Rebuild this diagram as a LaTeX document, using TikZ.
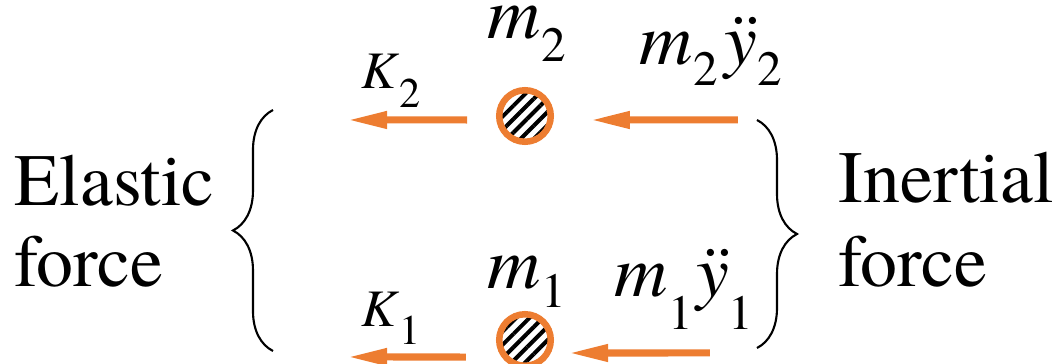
\documentclass[tikz,border=0pt]{standalone}
\usepackage{fontspec}
\IfFontExistsTF{texgyretermes-regular.otf}
 {\setmainfont{texgyretermes}[Extension=.otf,UprightFont=*-regular,
   ItalicFont=*-italic,BoldFont=*-bold,BoldItalicFont=*-bolditalic]}
 {\setmainfont{Liberation Serif}}
\usepackage{xcolor}
\usetikzlibrary{arrows.meta,positioning,decorations.pathreplacing,patterns.meta}
\definecolor{fcorange}{HTML}{ED7D31}
\newcommand{\lsub}[2][0.22cm]{\raisebox{-#1}{\fontsize{14}{14}\selectfont #2}}
\newcommand{\ksub}[2][0.17cm]{\raisebox{-#1}{\fontsize{12}{12}\selectfont #2}}

\begin{document}
\begin{tikzpicture}[x=0.01cm,y=-0.01cm,
 lbl/.style={inner sep=0,font=\fontsize{21}{23}\selectfont},
 mlbl/.style={inner sep=0,anchor=base west,text height=0.3cm,font=\fontsize{21}{21}\selectfont},
 klbl/.style={inner sep=0,anchor=base west,font=\fontsize{15}{15}\selectfont},
 mass/.style={circle,draw=fcorange,line width=0.065cm,minimum size=0.515cm,inner sep=0,
  pattern={Lines[angle=45,distance=2.7pt,line width=1.15pt]}},
 force/.style={fcorange,line width=0.07cm,-{Triangle[length=0.4cm,width=0.16cm]}},
 curly/.style={decorate,decoration={brace,amplitude=0.4cm},line width=0.6pt}]
\useasboundingbox (0,0) rectangle (1056,364);
% the two masses
\node[mass] (mtwo) at (525,116) {};
\node[mass] (mone) at (525,340) {};
\node[mlbl] (mtwolbl) at (487,39) {\textit{m}\lsub{2}};
\node[mlbl] (monelbl) at (487,289) {\textit{m}\lsub[0.18cm]{1}};
% elastic forces (left)
\coordinate (ktwoend) at (347,120);
\coordinate (koneend) at (347,357);
\draw[force,shorten <=0.3cm] ([yshift=-0.04cm]mtwo.west) -- (ktwoend);
\draw[force,shorten <=0.3cm] ([yshift=-0.17cm]mone.west) -- (koneend);
\node[klbl] (ktwo) at (361,89) {\textit{K}\ksub[0.18cm]{2}};
\node[klbl] (kone) at (361,327) {\textit{K}\ksub{1}};
% inertial forces (right)
\coordinate (itwostart) at (738,120);
\coordinate (ionestart) at (710,353);
\draw[force,shorten >=0.37cm] (itwostart) -- ([yshift=-0.04cm]mtwo.east);
\draw[force,shorten >=0.14cm] (ionestart) -- ([yshift=-0.13cm]mone.east);
\node[mlbl] (itwolbl) at (639,65) {\textit{m}\lsub[0.2cm]{2}\kern2pt\textit{ÿ}\lsub[0.2cm]{2}};
\node[mlbl] (ionelbl) at (614,297) {\textit{m}\lsub[0.32cm]{1}\kern1pt\textit{ÿ}\lsub[0.32cm]{1}};
% braces and side texts
\coordinate (lbot) at (273,351);
\coordinate (ltop) at (273,110);
\coordinate (rtop) at (757,120);
\coordinate (rbot) at (757,348);
\draw[curly] (lbot) -- (ltop);
\draw[curly] (rtop) -- (rbot);
\node[lbl,anchor=base west] (elastic) at (14,206) {Elastic};
\node[lbl,anchor=base west] (elforce) at (14,287) {force};
\node[lbl,anchor=base west] (inertial) at (838,203) {Inertial};
\node[lbl,anchor=base west] (inforce) at (838,287) {force};
\end{tikzpicture}
\end{document}
